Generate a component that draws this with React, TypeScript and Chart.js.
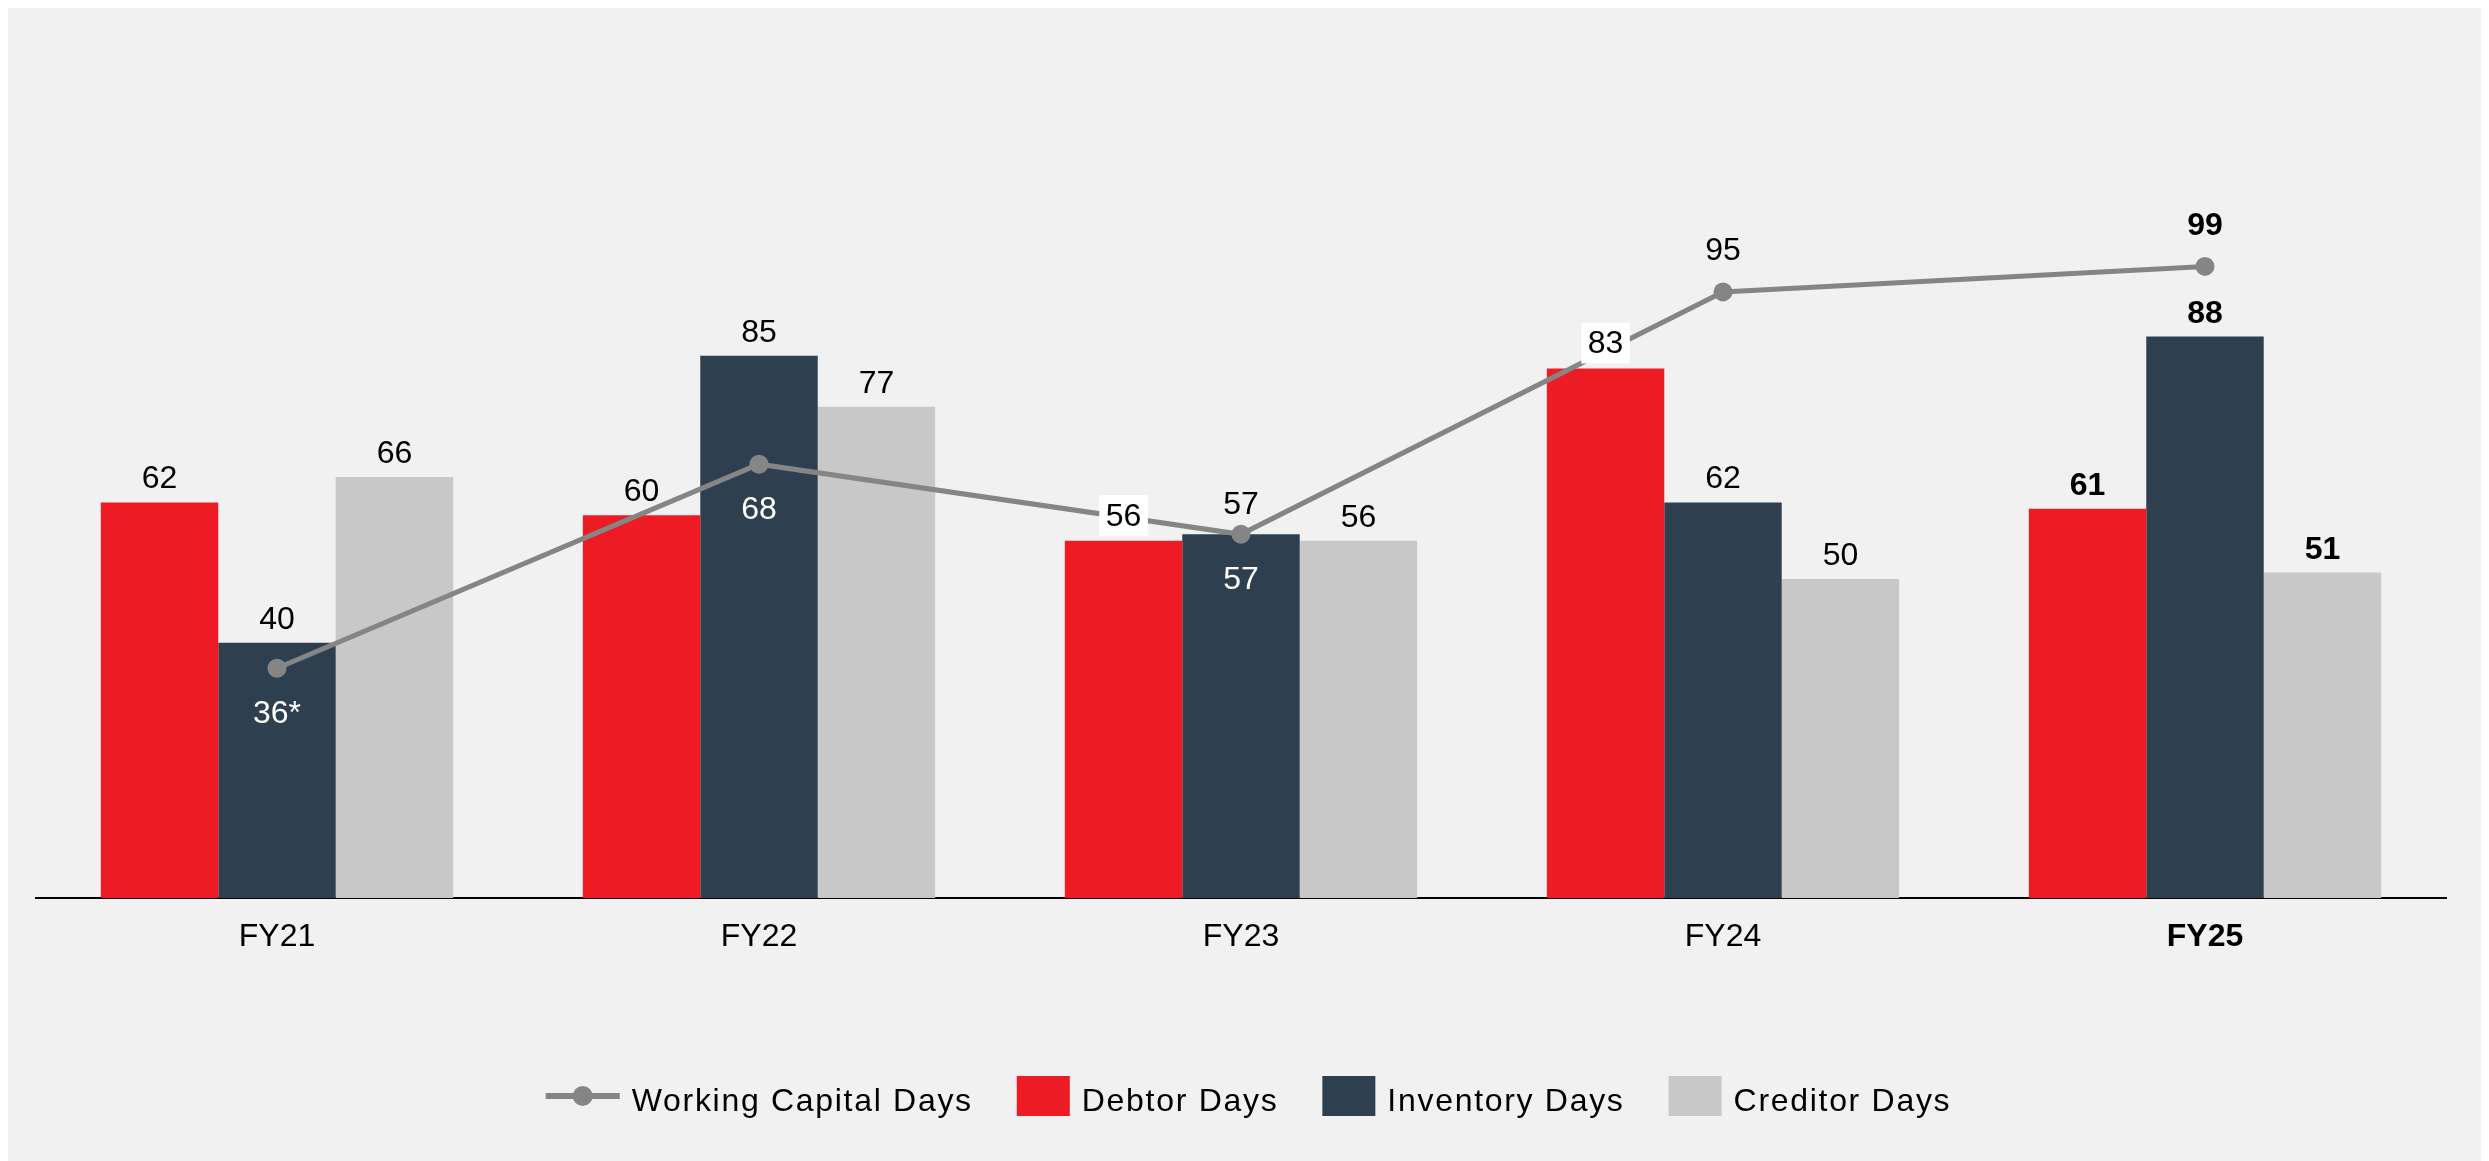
import React, { useEffect, useRef } from "react";
import { Chart, registerables } from "chart.js";

Chart.register(...registerables);

const categories = ["FY21", "FY22", "FY23", "FY24", "FY25"];
const workingCapitalDays = [36, 68, 57, 95, 99];
const workingCapitalLabels = ["36*", "68", "57", "95", "99"];
const debtorDays = [62, 60, 56, 83, 61];
const inventoryDays = [40, 85, 57, 62, 88];
const creditorDays = [66, 77, 56, 50, 51];
const seriesNames = ["Working Capital Days", "Debtor Days", "Inventory Days", "Creditor Days"];

const RED = "#ED1C24";
const NAVY = "#2E4050";
const GREY = "#C8C8C8";
const LINE = "#858585";
const BG = "#F1F1F1";
const FONT = '"Liberation Sans", Arial, sans-serif';

const W = 2481;
const H = 1153;

const backgroundPlugin = {
  id: "bgFill",
  beforeDraw(chart: any) {
    const ctx = chart.ctx;
    ctx.save();
    ctx.fillStyle = BG;
    ctx.fillRect(0, 0, chart.width, chart.height);
    ctx.restore();
  },
};

const labelPlugin = {
  id: "valueLabels",
  afterDatasetsDraw(chart: any) {
    const ctx = chart.ctx;
    const boldIndex = 4;
    const boxed: Record<string, boolean> = { "1-2": true, "1-3": true };
    const extraGap: Record<string, number> = { "2-2": 6 };
    ctx.save();
    ctx.textAlign = "center";
    ctx.textBaseline = "alphabetic";
    for (let di = 1; di <= 3; di++) {
      const meta = chart.getDatasetMeta(di);
      const data = chart.data.datasets[di].data;
      meta.data.forEach((bar: any, j: number) => {
        const key = `${di}-${j}`;
        ctx.font = `${j === boldIndex ? "bold " : ""}32px ${FONT}`;
        const text = String(data[j]);
        const isBoxed = !!boxed[key];
        const gap = (isBoxed ? 15 : 14) + (extraGap[key] || 0);
        const baseline = bar.y - gap;
        if (isBoxed) {
          const tw = ctx.measureText(text).width;
          ctx.fillStyle = "#FFFFFF";
          ctx.fillRect(bar.x - tw / 2 - 6.5, baseline - 30.7, tw + 13, 40.7);
        }
        ctx.fillStyle = "#000000";
        ctx.fillText(text, bar.x, baseline);
      });
    }
    const lmeta = chart.getDatasetMeta(0);
    lmeta.data.forEach((pt: any, j: number) => {
      ctx.font = `${j === boldIndex ? "bold " : ""}32px ${FONT}`;
      const below = j < 3;
      ctx.fillStyle = below ? "#FFFFFF" : "#000000";
      const baseline = below ? pt.y + 54.5 : pt.y - 31.5;
      ctx.fillText(workingCapitalLabels[j], pt.x, baseline);
    });
    ctx.restore();
  },
};

const legendPlugin = {
  id: "customLegend",
  afterDraw(chart: any) {
    const ctx = chart.ctx;
    const ds = chart.data.datasets;
    ctx.save();
    ctx.font = `32px ${FONT}`;
    try {
      (ctx as any).letterSpacing = "1.7px";
    } catch (e) {}
    const iconW = [74, 53, 53, 53];
    const iconGap = 12;
    const itemGap = 44;
    const widths = ds.map((d: any) => ctx.measureText(d.label).width);
    let total = 0;
    ds.forEach((d: any, i: number) => {
      total += iconW[i] + iconGap + widths[i];
    });
    total += itemGap * (ds.length - 1);
    let x = (chart.width - total) / 2;
    const cy = chart.height - 65;
    ctx.textAlign = "left";
    ctx.textBaseline = "alphabetic";
    ds.forEach((d: any, i: number) => {
      if (d.type === "line") {
        ctx.strokeStyle = d.borderColor;
        ctx.lineWidth = 6;
        ctx.beginPath();
        ctx.moveTo(x, cy);
        ctx.lineTo(x + iconW[i], cy);
        ctx.stroke();
        ctx.fillStyle = d.borderColor;
        ctx.beginPath();
        ctx.arc(x + iconW[i] / 2, cy, 10, 0, Math.PI * 2);
        ctx.fill();
      } else {
        ctx.fillStyle = d.backgroundColor;
        ctx.fillRect(x, cy - 20, iconW[i], 40);
      }
      x += iconW[i] + iconGap;
      ctx.fillStyle = "#000000";
      ctx.fillText(d.label, x, cy + 15);
      x += widths[i] + itemGap;
    });
    ctx.restore();
  },
};

export default function App() {
  const ref = useRef<HTMLCanvasElement>(null);
  useEffect(() => {
    document.documentElement.style.overflow = "hidden";
    document.body.style.overflow = "hidden";
    const chart = new Chart(ref.current as HTMLCanvasElement, {
      type: "bar",
      data: {
        labels: categories,
        datasets: [
          {
            type: "line",
            label: seriesNames[0],
            data: workingCapitalDays,
            borderColor: LINE,
            backgroundColor: LINE,
            borderWidth: 5,
            pointRadius: 9.5,
            pointHoverRadius: 9.5,
            pointBackgroundColor: LINE,
            pointBorderWidth: 0,
            tension: 0,
            order: 0,
          } as any,
          {
            type: "bar",
            label: seriesNames[1],
            data: debtorDays,
            backgroundColor: RED,
            borderWidth: 0,
            order: 1,
          },
          {
            type: "bar",
            label: seriesNames[2],
            data: inventoryDays,
            backgroundColor: NAVY,
            borderWidth: 0,
            order: 1,
          },
          {
            type: "bar",
            label: seriesNames[3],
            data: creditorDays,
            backgroundColor: GREY,
            borderWidth: 0,
            order: 1,
          },
        ],
      },
      options: {
        responsive: false,
        animation: false,
        devicePixelRatio: 1,
        layout: { padding: { top: 124.4, left: 28, right: 43, bottom: 163 } },
        datasets: {
          bar: { categoryPercentage: 0.731, barPercentage: 1 },
        },
        plugins: {
          legend: { display: false },
          tooltip: { enabled: false },
        },
        scales: {
          x: {
            grid: { display: false, drawTicks: false },
            border: { display: true, color: "#000000", width: 2 },
            ticks: {
              color: "#000000",
              padding: 20,
              font: (c: any) => ({
                family: FONT,
                size: 32,
                weight: c.index === 4 ? "bold" : "normal",
              }),
            },
            afterFit: (scale: any) => {
              scale.height = 100;
            },
          },
          y: { display: false, min: 0, max: 120 },
        },
      },
      plugins: [backgroundPlugin, labelPlugin, legendPlugin],
    });
    return () => chart.destroy();
  }, []);
  return (
    <div style={{ width: W, height: H }}>
      <canvas ref={ref} width={W} height={H} style={{ display: "block" }} />
    </div>
  );
}
